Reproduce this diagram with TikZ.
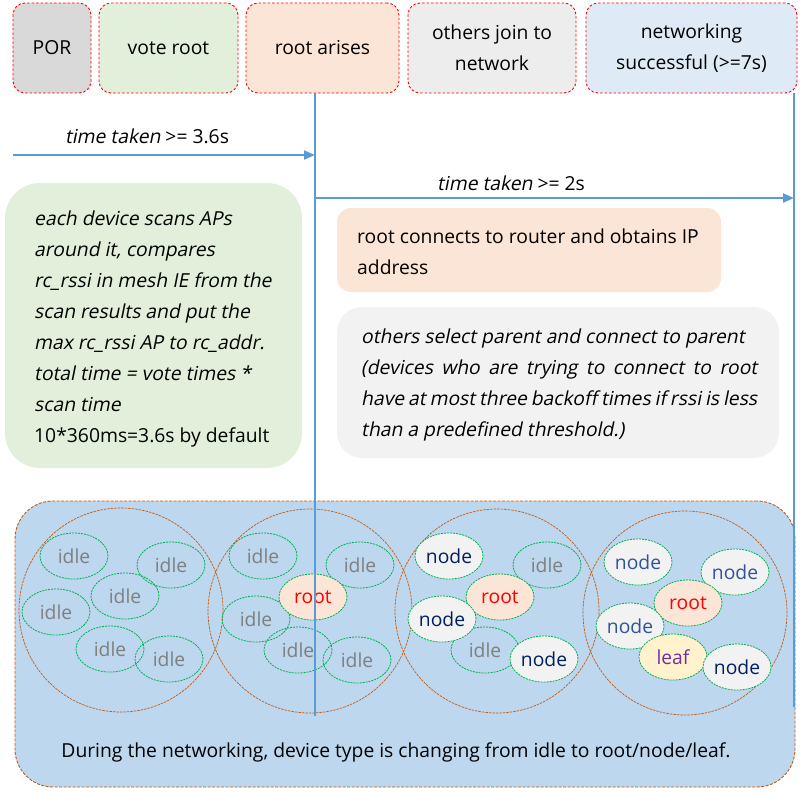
\documentclass[tikz,border=0pt]{standalone}
\usepackage{fontspec}
\setmainfont{Open Sans}
\newfontfamily\oblq[FakeSlant=0.2]{Open Sans}
\usetikzlibrary{shapes.geometric,arrows.meta}
\definecolor{grayfill}{HTML}{D9D9D9}
\definecolor{greenfill}{HTML}{E2EFDA}
\definecolor{salmonfill}{HTML}{FBE5D6}
\definecolor{lgrayfill}{HTML}{EDEDED}
\definecolor{lbluefill}{HTML}{DEEBF7}
\definecolor{bigfill}{HTML}{BDD7EE}
\definecolor{lineblue}{HTML}{5B9BD5}
\definecolor{orangedash}{HTML}{C55A11}
\definecolor{greendash}{HTML}{00B050}
\definecolor{nodefill}{HTML}{F2F2F2}
\definecolor{leaffill}{HTML}{FFF2CC}
\definecolor{navytext}{HTML}{002060}
\definecolor{bluetext}{HTML}{2F5597}
\definecolor{purpletext}{HTML}{7030A0}
\definecolor{graytext}{HTML}{7F7F7F}
\newcommand\myfont{\fontsize{19.3}{31}\selectfont}
\tikzset{
  topbox/.style={draw=red, dash pattern=on 2.5pt off 2pt, line width=0.9pt,
    rounded corners=12pt, align=center, font=\myfont, inner sep=0pt,
    minimum height=90pt},
  softbox/.style={rounded corners=#1, inner sep=0pt},
  txt/.style={font=\myfont, align=left, inner sep=0pt},
  bigcirc/.style={circle, draw=orangedash, dash pattern=on 2.5pt off 1pt,
    line width=0.7pt, minimum size=204pt, inner sep=0pt},
  dev/.style={ellipse, draw=greendash, dash pattern=on 2pt off 1pt,
    line width=0.8pt, minimum width=68pt, minimum height=46pt, inner sep=0pt,
    font=\myfont},
  idledev/.style={dev, text=graytext},
  rootdev/.style={dev, fill=salmonfill, text=red},
  nodedev/.style={dev, fill=nodefill, text=#1},
  leafdev/.style={dev, fill=leaffill, text=purpletext},
  vline/.style={draw=lineblue, line width=1.2pt},
  arr/.style={draw=lineblue, line width=2pt, -{Triangle[length=11pt,width=9pt]}},
}
\begin{document}
\begin{tikzpicture}[x=1pt,y=-1pt]
\useasboundingbox (0,0) rectangle (803,793);
% top phase boxes
\node[topbox, fill=grayfill, minimum width=78pt] (por) at (52,48) {POR};
\node[topbox, fill=greenfill, minimum width=139pt] (vote) at (168.5,48) {vote root};
\node[topbox, fill=salmonfill, minimum width=153pt] (arise) at (322.5,48) {root arises};
\node[topbox, fill=lgrayfill, minimum width=168pt] (join) at (492,48) {others join to\\network};
\node[topbox, fill=lbluefill, minimum width=211pt] (succ) at (691.5,48) {networking\\successful (>=7s)};
% time labels
\node[txt] (t1) at (147,136) {{\oblq time taken} >= 3.6s};
\node[txt] (t2) at (511,183) {{\oblq time taken} >= 2s};
% green description
\node[softbox=35pt, fill=greenfill, minimum width=297pt, minimum height=285pt] (gbox) at (153.5,325.5) {};
\node[txt, anchor=west] (gtext) at (34,329) {\oblq each device scans APs\\\oblq around it, compares\\\oblq rc\_rssi in mesh IE from the\\\oblq scan results and put the\\\oblq max rc\_rssi AP to rc\_addr.\\\oblq total time = vote times *\\\oblq scan time\\10*360ms=3.6s by default};
% salmon description
\node[softbox=14pt, fill=salmonfill, minimum width=384pt, minimum height=84pt] (sbox) at (529,250) {};
\node[txt, anchor=west] (stext) at (357,252) {root connects to router and obtains IP\\address};
% gray description
\node[softbox=25pt, fill=nodefill, minimum width=442pt, minimum height=151pt] (xbox) at (558,382.5) {};
\node[txt, anchor=west] (xtext) at (361,385) {\oblq others select parent and connect to parent\\\makebox[396pt][s]{\oblq (devices who are trying to connect to root}\\\makebox[396pt][s]{\oblq have at most three backoff times if rssi is less}\\\oblq than a predefined threshold.)};
% bottom box
\node[softbox=38pt, fill=bigfill, draw=orangedash, dash pattern=on 3pt off 1.5pt, line width=0.9pt, minimum width=780pt, minimum height=286pt] (bbox) at (405,644) {};
\node[txt] (btext) at (396,752) {During the networking, device type is changing from idle to root/node/leaf.};
% big circles
\node[bigcirc] (c1) at (121,610) {};
\node[bigcirc] (c2) at (310,611) {};
\node[bigcirc] (c3) at (497,611) {};
\node[bigcirc] (c4) at (685,613) {};
% circle 1
\node[idledev] (a1) at (74,556) {idle};
\node[idledev] (a2) at (171,565) {idle};
\node[idledev] (a3) at (125,596) {idle};
\node[idledev] (a4) at (56,612) {idle};
\node[idledev] (a5) at (110,649) {idle};
\node[idledev] (a6) at (169,659) {idle};
% circle 2
\node[idledev] (b1) at (263,556) {idle};
\node[idledev] (b2) at (360,565) {idle};
\node[idledev] (b4) at (256,619) {idle};
\node[idledev] (b5) at (298,650) {idle};
\node[idledev] (b6) at (357,660) {idle};
\node[rootdev] (b3) at (313,597) {root};
% circle 3
\node[nodedev=navytext] (d1) at (449,556) {node};
\node[idledev] (d2) at (547,565) {idle};
\node[idledev] (d5) at (485,650) {idle};
\node[rootdev] (d3) at (500,597) {root};
\node[nodedev=navytext] (d4) at (442,619) {node};
\node[nodedev=navytext] (d6) at (544,659) {node};
% circle 4
\node[nodedev=bluetext] (e1) at (638,562) {node};
\node[nodedev=bluetext] (e2) at (735,572) {node};
\node[rootdev] (e3) at (688,603) {root};
\node[nodedev=bluetext] (e4) at (630,626) {node};
\node[leafdev] (e5) at (673,657) {leaf};
\node[nodedev=navytext] (e6) at (737,667) {node};
% timeline lines
\coordinate (v1top) at (315,93);
\coordinate (v1bot) at (315,716);
\coordinate (v2top) at (794,93);
\coordinate (v2bot) at (794,707);
\coordinate (a1s) at (13,155);
\coordinate (a1e) at (315,155);
\coordinate (a2e) at (794,198);
\coordinate (a2s) at (315,198);
\draw[vline] (v1top) -- (v1bot);
\draw[vline] (v2top) -- (v2bot);
\draw[arr] (a1s) -- (a1e);
\draw[arr] (a2s) -- (a2e);
\end{tikzpicture}
\end{document}
